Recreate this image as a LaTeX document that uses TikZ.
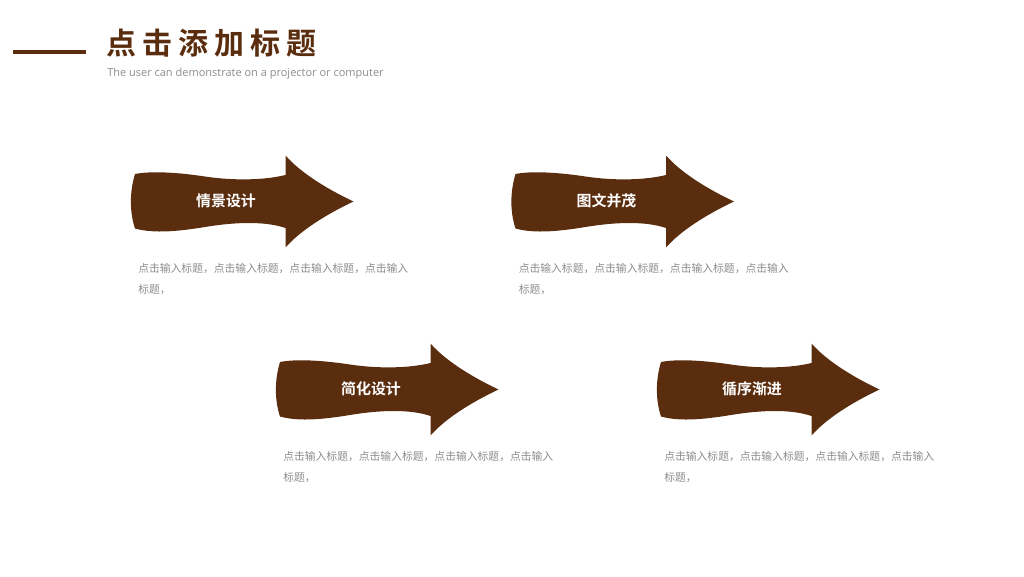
\documentclass[tikz,border=0pt]{standalone}
\usepackage{fontspec}
\setmainfont{Open Sans}
\newfontfamily\cjk{Noto Sans CJK SC}
\newfontfamily\cjkb{Noto Sans CJK SC Bold}
\definecolor{brown1}{HTML}{5A2D0E}
\definecolor{gray1}{HTML}{8C8C8C}
\tikzset{
  titletext/.style={anchor=west,inner sep=0pt,text=brown1,font=\cjkb\fontsize{22.5pt}{24pt}\selectfont},
  subtext/.style={anchor=west,inner sep=0pt,text=gray1,font=\fontsize{8.25pt}{10pt}\selectfont},
  arrowtext/.style={inner sep=0pt,text=white,font=\cjkb\fontsize{11.2pt}{13pt}\selectfont},
  desctext/.style={anchor=north west,inner sep=0pt,align=left,text=gray1,font=\cjk\fontsize{8.1pt}{15.4pt}\selectfont}
}
\begin{document}
\begin{tikzpicture}[line cap=round,line join=round,x=0.75pt,y=-0.75pt]
  \useasboundingbox (0,0) rectangle (1024,576);
  \coordinate (lineleft) at (13,52);
  \coordinate (lineright) at (86,52);
  \draw [line width=3pt,line cap=butt,color=brown1] (lineleft)-- (lineright);
  \node [titletext] (title) at (106.5,43) {点\kern4.5pt 击\kern4.5pt 添\kern4.5pt 加\kern4.5pt 标\kern4.5pt 题};
  \node [subtext] (subtitle) at (107,73.5) {The user can demonstrate on a projector or computer};
  \foreach \x/\y/\n/\t in {0/0/a/情景设计,380.5/0/b/图文并茂,145/188/c/简化设计,526/188/d/循序渐进}
  {
    \begin{scope}[shift={(\x,\y)}]
      \fill [color=brown1] (135,174)
        .. controls (150,171) and (175,172) .. (205,176.5)
        .. controls (235,181) and (265,180) .. (285.5,175)
        -- (285.5,155.5)
        .. controls (300,172) and (325,188) .. (353.5,201.5)
        .. controls (325,215) and (300,231) .. (285.5,247.5)
        -- (285.5,228)
        .. controls (265,221) and (235,222) .. (205,227)
        .. controls (180,231) and (155,234) .. (135,228.5)
        .. controls (129.5,212) and (129.5,192) .. (135,174) -- cycle;
      \node [arrowtext] (label\n) at (226,200.5) {\t};
      \node [desctext] (desc\n) at (138,263.5) {点击输入标题，点击输入标题，点击输入标题，点击输入\\标题，};
    \end{scope}
  }
\end{tikzpicture}
\end{document}
